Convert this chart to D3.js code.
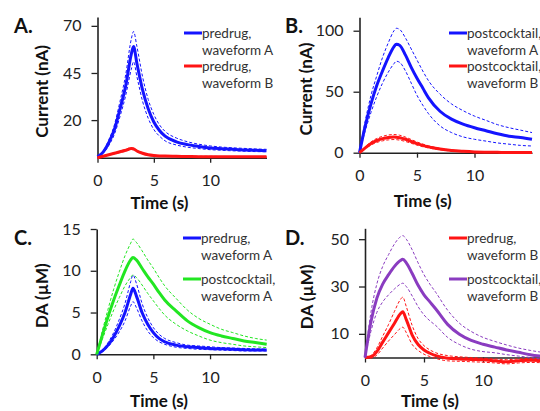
<!DOCTYPE html>
<html>
<head>
<meta charset="utf-8">
<script src="https://cdn.jsdelivr.net/npm/d3@7"></script>
<style>
  body { margin: 0; background: #fff; }
  svg { display: block; font-family: Lato, "Open Sans", sans-serif; }
</style>
</head>
<body>
<div id="chart"></div>
<script>
// sample times (s)
var time = [0, 0.5, 1, 1.5, 2, 2.5, 3, 3.2, 3.5, 4, 4.5, 5, 5.5, 6, 7, 8, 9, 10, 11, 12, 13, 14, 15];

// A. current (nA), predrug
var aBlue      = [0.5, 3, 8, 15, 26, 38, 55, 59, 50, 36, 26, 19, 14.5, 11.5, 8.5, 7, 6, 5.2, 4.8, 4.5, 4.2, 4, 3.8];
var aBlueHi    = [0.5, 3.5, 9.5, 17.5, 30, 44, 63, 67, 59, 43, 31, 23, 17.5, 14, 10.5, 8.5, 7.2, 6.3, 5.7, 5.3, 5, 4.7, 4.5];
var aBlueLo    = [0.5, 2.5, 6.5, 12.5, 22, 33, 47, 51, 43, 30, 21, 15, 11.5, 9, 6.8, 5.6, 4.9, 4.3, 4, 3.7, 3.5, 3.3, 3.2];
var aRed       = [0, 0.8, 1.6, 2.4, 3.2, 4, 4.9, 4.7, 3.6, 2.4, 1.6, 1.2, 1, 0.9, 0.8, 0.7, 0.6, 0.6, 0.5, 0.5, 0.5, 0.5, 0.5];
var aRedHi     = [0, 0.9, 1.8, 2.7, 3.6, 4.5, 5.4, 5.2, 4, 2.7, 1.8, 1.4, 1.2, 1.1, 1, 0.9, 0.8, 0.8, 0.7, 0.7, 0.7, 0.7, 0.7];
var aRedLo     = [0, 0.7, 1.4, 2.1, 2.8, 3.5, 4.4, 4.2, 3.2, 2.1, 1.4, 1, 0.8, 0.7, 0.6, 0.5, 0.4, 0.4, 0.3, 0.3, 0.3, 0.3, 0.3];

// B. current (nA), postcocktail
var bBlue      = [0, 22, 40, 55, 67, 78, 87, 89, 88, 80, 70, 61, 53, 45, 34, 27.5, 23.5, 20.5, 18, 15.5, 13.5, 12.5, 11];
var bBlueHi    = [0, 26, 47, 63, 78, 90, 100, 102, 101, 94, 85, 76, 67, 59, 48, 40, 34.5, 30, 26.5, 23, 20.5, 18.5, 16.5];
var bBlueLo    = [0, 18, 33, 46, 57, 66, 73, 75, 74, 67, 57, 47, 39, 32, 22, 16.5, 13, 11, 9.5, 8, 7, 6, 5.5];
var bRed       = [0, 4, 7.5, 10, 11.5, 12.5, 12.8, 12.7, 12.3, 11, 9.2, 7.5, 6, 4.8, 3, 1.8, 1.1, 0.6, 0.4, 0.3, 0.2, 0.2, 0.1];
var bRedHi     = [0, 4.8, 8.8, 11.7, 13.4, 14.5, 14.9, 14.8, 14.3, 12.8, 10.8, 8.8, 7.1, 5.7, 3.6, 2.2, 1.4, 0.8, 0.5, 0.4, 0.3, 0.3, 0.2];
var bRedLo     = [0, 3.3, 6.3, 8.4, 9.7, 10.5, 10.8, 10.7, 10.3, 9.2, 7.7, 6.2, 4.9, 3.9, 2.4, 1.4, 0.8, 0.4, 0.3, 0.2, 0.1, 0.1, 0];

// C. DA (uM), waveform A
var cBlue      = [0, 0.4, 1.1, 2.1, 3.4, 5, 7.2, 7.9, 7, 5, 3.6, 2.6, 1.9, 1.5, 1.1, 0.9, 0.8, 0.7, 0.65, 0.6, 0.55, 0.5, 0.5];
var cBlueHi    = [0, 0.5, 1.4, 2.6, 4.2, 6.1, 8.7, 9.5, 8.5, 6.1, 4.4, 3.2, 2.4, 1.9, 1.4, 1.1, 1, 0.9, 0.8, 0.75, 0.7, 0.65, 0.6];
var cBlueLo    = [0, 0.3, 0.9, 1.7, 2.7, 4, 5.8, 6.3, 5.6, 4, 2.8, 2, 1.5, 1.2, 0.85, 0.7, 0.6, 0.55, 0.5, 0.45, 0.4, 0.4, 0.4];
var cGreen     = [0, 2.3, 4.5, 6.5, 8.3, 10, 11.3, 11.6, 11.3, 10.3, 9.3, 8.4, 7.4, 6.5, 5.2, 4, 3.2, 2.6, 2.2, 1.9, 1.6, 1.4, 1.2];
var cGreenHi   = [0, 2.8, 5.4, 7.8, 9.9, 11.8, 13.3, 13.8, 13.4, 12.4, 11.3, 10.3, 9.2, 8.2, 6.7, 5.3, 4.3, 3.6, 3, 2.6, 2.2, 1.9, 1.7];
var cGreenLo   = [0, 1.8, 3.6, 5.3, 6.8, 8.2, 9.2, 9.5, 9.2, 8.3, 7.3, 6.4, 5.5, 4.7, 3.6, 2.8, 2.2, 1.7, 1.4, 1.2, 1, 0.9, 0.8];

// D. DA (uM), waveform B
var dRed       = [0, 0.3, 2.5, 6.5, 10.5, 14.5, 18.5, 19.3, 16, 9.5, 5.5, 3.2, 1.8, 0.8, -0.3, -0.6, -0.8, -1, -1.4, -1.8, -1.4, -1.2, -1.3];
var dRedHi     = [0, 0.8, 4, 9, 14, 19.5, 24.5, 25.5, 21.5, 13.5, 8, 5, 3.2, 2, 0.8, 0.3, 0, -0.3, -0.6, -0.9, -0.6, -0.4, -0.5];
var dRedLo     = [0, -0.2, 1, 4, 7, 9.7, 12.3, 12.8, 10.5, 5.5, 3, 1.4, 0.4, -0.4, -1.4, -1.6, -1.8, -2, -2.3, -2.7, -2.3, -2.1, -2.2];
var dPurple    = [0, 15, 25, 31, 35, 38.5, 41, 41.5, 40, 35.5, 30.5, 26.5, 23.5, 20.5, 14, 9.8, 7.2, 5.6, 4.4, 3.2, 2.2, 1.2, 0.5];
var dPurpleHi  = [0, 19, 31, 38.5, 43.5, 48, 51, 51.5, 50, 45.5, 40, 35, 31, 27.5, 20, 14.5, 11, 8.5, 6.8, 5.3, 4, 3, 2.2];
var dPurpleLo  = [0, 11, 19, 23.5, 26.5, 29, 31, 31.4, 30, 26, 21.5, 18, 15.5, 13.5, 8.5, 5.5, 3.5, 2.5, 2, 1.2, 0.6, 0, -0.8];

var xTicks = [0, 5, 10];
var aTicks = [20, 45, 70];
var bTicks = [0, 50, 100];
var cTicks = [0, 5, 10, 15];
var dTicks = [10, 30, 50];

var BLUE = "#1414ff", RED = "#ff1414", GREEN = "#22e622", PURPLE = "#8a3cc0";

var svg = d3.select("#chart").append("svg")
    .attr("width", 540)
    .attr("height", 411);

function zip(vals) {
    return vals.map(function (v, i) { return [time[i], v]; });
}

function drawPanel(p) {
    var x = d3.scaleLinear().domain([0, 15]).range([p.x0, p.x1]);
    var y = d3.scaleLinear().domain(p.yDomain).range([p.y0, p.y1]);

    var g = svg.append("g");

    var xAxis = d3.axisBottom(x).tickValues(xTicks).tickSize(5).tickSizeOuter(0).tickPadding(12);
    var yAxis = d3.axisLeft(y).tickValues(p.yTicks).tickSize(6).tickSizeOuter(0).tickPadding(10);

    var gx = g.append("g")
        .attr("transform", "translate(0," + y(0) + ")")
        .call(xAxis);
    var gy = g.append("g")
        .attr("transform", "translate(" + p.x0 + ",0)")
        .call(yAxis);

    [gx, gy].forEach(function (ax) {
        ax.select(".domain").attr("stroke", "#222").attr("stroke-width", 1.6);
        ax.selectAll(".tick line").attr("stroke", "#222").attr("stroke-width", 1.3);
        ax.selectAll(".tick text")
            .style("font-size", "16px")
            .style("font-family", "Lato, sans-serif")
            .attr("fill", "#222");
    });

    var line = d3.line()
        .x(function (d) { return x(d[0]); })
        .y(function (d) { return y(d[1]); })
        .curve(d3.curveMonotoneX);

    p.series.forEach(function (s) {
        g.append("path")
            .datum(zip(s.hi))
            .attr("fill", "none").attr("stroke", s.color)
            .attr("stroke-width", 1).attr("stroke-dasharray", "3,2")
            .attr("d", line);
        g.append("path")
            .datum(zip(s.lo))
            .attr("fill", "none").attr("stroke", s.color)
            .attr("stroke-width", 1).attr("stroke-dasharray", "3,2")
            .attr("d", line);
        g.append("path")
            .datum(zip(s.mean))
            .attr("fill", "none").attr("stroke", s.color)
            .attr("stroke-width", 3)
            .attr("stroke-linejoin", "round")
            .attr("d", line);
    });

    // panel letter
    g.append("text")
        .attr("x", p.letterX).attr("y", p.letterY)
        .style("font-size", "20px").style("font-weight", "700")
        .attr("fill", "#111")
        .text(p.letter);

    // axis titles
    g.append("text")
        .attr("transform", "translate(" + p.yTitleX + "," + ((p.y0 + p.y1) / 2 + 4) + ") rotate(-90)")
        .attr("text-anchor", "middle")
        .style("font-size", "17px").style("font-weight", "700")
        .attr("fill", "#111")
        .text(p.yTitle);
    g.append("text")
        .attr("x", x(5.5)).attr("y", p.xTitleY)
        .attr("text-anchor", "middle")
        .style("font-size", "17px").style("font-weight", "700")
        .attr("fill", "#111")
        .text("Time (s)");

    // legend
    p.series.forEach(function (s, i) {
        var ly = p.legY + i * p.legGap;
        g.append("line")
            .attr("x1", p.legX - 18).attr("x2", p.legX)
            .attr("y1", ly).attr("y2", ly)
            .attr("stroke", s.color).attr("stroke-width", 3);
        g.append("text")
            .attr("x", p.legX).attr("y", ly + 5)
            .style("font-size", "13.5px")
            .attr("fill", "#333")
            .text(s.label[0]);
        g.append("text")
            .attr("x", p.legX).attr("y", ly + 22)
            .style("font-size", "13.5px")
            .attr("fill", "#333")
            .text(s.label[1]);
    });
}

drawPanel({
    letter: "A.", letterX: 14, letterY: 33,
    x0: 97.5, x1: 266.5, y0: 157.8, y1: 17, yDomain: [0, 74.7], yTicks: aTicks,
    yTitle: "Current (nA)", yTitleX: 48, xTitleY: 209,
    legX: 202, legY: 33, legGap: 33,
    series: [
        { mean: aBlue, hi: aBlueHi, lo: aBlueLo, color: BLUE, label: ["predrug,", "waveform A"] },
        { mean: aRed, hi: aRedHi, lo: aRedLo, color: RED, label: ["predrug,", "waveform B"] }
    ]
});

drawPanel({
    letter: "B.", letterX: 285, letterY: 33,
    x0: 359.5, x1: 532, y0: 152.7, y1: 17.3, yDomain: [0, 111], yTicks: bTicks,
    yTitle: "Current (nA)", yTitleX: 312, xTitleY: 207,
    legX: 467, legY: 33, legGap: 33,
    series: [
        { mean: bBlue, hi: bBlueHi, lo: bBlueLo, color: BLUE, label: ["postcocktail,", "waveform A"] },
        { mean: bRed, hi: bRedHi, lo: bRedLo, color: RED, label: ["postcocktail,", "waveform B"] }
    ]
});

drawPanel({
    letter: "C.", letterX: 14, letterY: 245,
    x0: 96.7, x1: 266.7, y0: 354.3, y1: 229, yDomain: [0, 15], yTicks: cTicks,
    yTitle: "DA (\u00b5M)", yTitleX: 48, xTitleY: 406.5,
    legX: 201, legY: 238, legGap: 41,
    series: [
        { mean: cBlue, hi: cBlueHi, lo: cBlueLo, color: BLUE, label: ["predrug,", "waveform A"] },
        { mean: cGreen, hi: cGreenHi, lo: cGreenLo, color: GREEN, label: ["postcocktail,", "waveform A"] }
    ]
});

drawPanel({
    letter: "D.", letterX: 285, letterY: 245,
    x0: 365, x1: 542, y0: 357.5, y1: 228.3, yDomain: [0, 54.6], yTicks: dTicks,
    yTitle: "DA (\u00b5M)", yTitleX: 313, xTitleY: 406.5,
    legX: 467, legY: 238, legGap: 41,
    series: [
        { mean: dRed, hi: dRedHi, lo: dRedLo, color: RED, label: ["predrug,", "waveform B"] },
        { mean: dPurple, hi: dPurpleHi, lo: dPurpleLo, color: PURPLE, label: ["postcocktail,", "waveform B"] }
    ]
});
</script>
</body>
</html>
